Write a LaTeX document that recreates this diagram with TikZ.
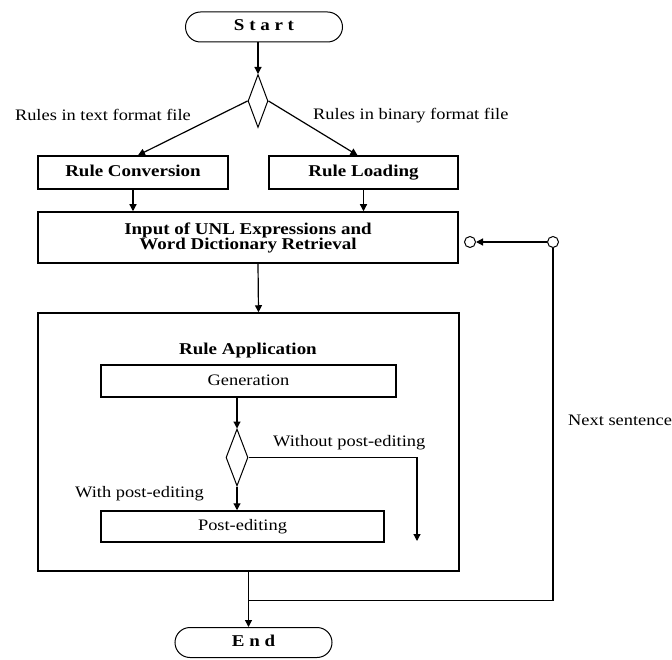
\documentclass[tikz,border=0pt]{standalone}
\usepackage{fontspec}
\setmainfont{Liberation Serif}[FakeStretch=1.15]
\usepackage{tikz}
\usetikzlibrary{shapes,arrows.meta,positioning,calc}

\begin{document}
\begin{tikzpicture}[
    x=1pt, y=-1pt,
    font=\fontsize{16}{15}\selectfont,
    box/.style={rectangle, draw, line width=1.5pt, inner sep=0pt, align=center},
    bbox/.style={box, font=\fontsize{16.5}{15}\selectfont\bfseries},
    oneline/.style={text height=11pt, text depth=3pt},
    term/.style={rounded rectangle, draw, line width=1pt, minimum width=157pt, minimum height=30pt, inner sep=0pt, oneline, font=\fontsize{16.5}{15}\selectfont\bfseries},
    decision/.style={diamond, draw, line width=1pt, inner sep=0pt},
    joint/.style={circle, draw, fill=white, line width=1pt, minimum size=11pt, inner sep=0pt},
    arrow/.style={-{Triangle[width=7pt,length=7pt]}, line width=1.2pt},
    line/.style={line width=1.2pt}
]
\useasboundingbox (0,0) rectangle (672,660);

\node[term] (start) at (264,27) {S t a r t};
\node[decision, minimum width=20pt, minimum height=53pt] (dec1) at (258,101) {};
\node[bbox, oneline, minimum width=190pt, minimum height=33pt] (conv) at (133,172.5) {Rule Conversion};
\node[bbox, oneline, minimum width=189pt, minimum height=33pt] (load) at (363.5,172.5) {Rule Loading};
\node[bbox, minimum width=420pt, minimum height=51pt] (input) at (248,237.5) {Input of UNL Expressions and\\Word Dictionary Retrieval};

\node[box, minimum width=421pt, minimum height=258pt] (apply) at (248.5,442) {};
\node[oneline, font=\fontsize{16.5}{15}\selectfont\bfseries] (applbl) at (248,350) {Rule Application};
\node[box, oneline, minimum width=295pt, minimum height=32pt] (gen) at (248.5,381) {Generation};
\node[decision, minimum width=22pt, minimum height=57pt] (dec2) at (237,457.5) {};
\node[box, oneline, minimum width=283pt, minimum height=31pt] (post) at (242.5,526.5) {Post-editing};
\coordinate (skip) at (417,541);

\node[term] (end) at (253.5,642.5) {E n d};

\node[joint] (c1) at (470,242) {};
\node[joint] (c2) at (553,242) {};

% labels
\node[oneline, anchor=east, inner sep=0pt] (txtlbl) at (191,117) {Rules in text format file};
\node[oneline, anchor=west, inner sep=0pt] (binlbl) at (313,116) {Rules in binary format file};
\node[oneline, anchor=west, inner sep=0pt] (wolbl) at (273,442) {Without post-editing};
\node[oneline, anchor=west, inner sep=0pt] (wlbl) at (75,493) {With post-editing};
\node[oneline, anchor=west, inner sep=0pt] (nxtlbl) at (568,421) {Next sentence};

% connectors
\draw[arrow] (start.south -| dec1.north) -- (dec1.north);
\draw[arrow] (dec1.west) -- ($(conv.north)+(5,0)$);
\draw[arrow] (dec1.east) -- ($(load.north)+(-6,0)$);
\draw[arrow] (conv.south) -- (conv.south |- input.north);
\draw[arrow] (load.south) -- (load.south |- input.north);
\draw[arrow] ($(input.south)+(10,0)$) -- ($(apply.north)+(10,0)$);
\draw[arrow] (gen.south -| dec2.north) -- (dec2.north);
\draw[arrow] (dec2.south) -- (dec2.south |- post.north);
\draw[arrow] (dec2.east) -| (skip);
\draw[arrow] (apply.south) -- (apply.south |- end.north);

% feedback loop
\coordinate (merge) at ($(apply.south)+(0,29)$);
\draw[line] (merge) -| (c2);
\draw[arrow] (c2) -- (c1);
\end{tikzpicture}
\end{document}
